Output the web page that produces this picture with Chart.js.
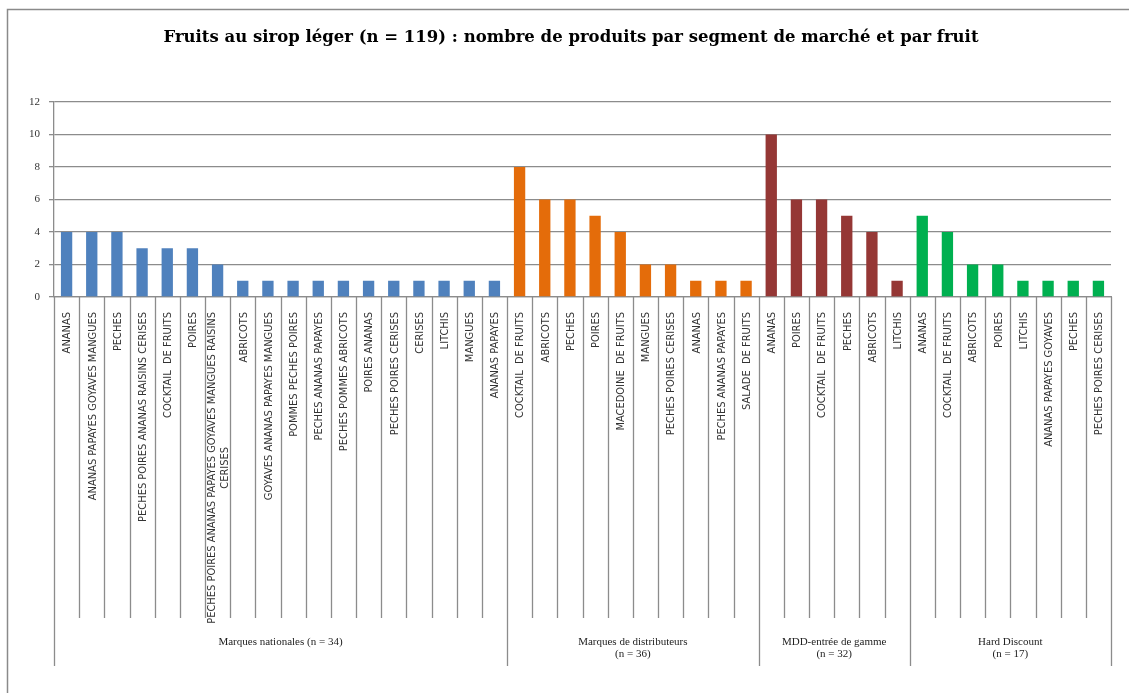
<!DOCTYPE html>
<html lang="fr">
<head>
<meta charset="utf-8">
<title>Fruits au sirop léger</title>
<script src="https://cdn.jsdelivr.net/npm/chart.js"></script>
<style>
  html,body{margin:0;padding:0;background:#fff}
  #wrap{position:relative;width:1129px;height:693px}
</style>
</head>
<body>
<div id="wrap"><canvas id="chart"></canvas></div>
<script>
/* ---------- DATA ---------- */
const titleText = "Fruits au sirop léger (n = 119) : nombre de produits par segment de marché et par fruit";
const yTicks = [0, 2, 4, 6, 8, 10, 12];

const natLabels = ["ANANAS", "ANANAS PAPAYES GOYAVES MANGUES", "PECHES", "PECHES POIRES ANANAS RAISINS CERISES",
  "COCKTAIL  DE FRUITS", "POIRES", ["PECHES POIRES ANANAS PAPAYES GOYAVES MANGUES RAISINS", "CERISES"],
  "ABRICOTS", "GOYAVES ANANAS PAPAYES MANGUES", "POMMES PECHES POIRES", "PECHES ANANAS PAPAYES",
  "PECHES POMMES ABRICOTS", "POIRES ANANAS", "PECHES POIRES CERISES", "CERISES", "LITCHIS", "MANGUES", "ANANAS PAPAYES"];
const natValues = [4, 4, 4, 3, 3, 3, 2, 1, 1, 1, 1, 1, 1, 1, 1, 1, 1, 1];

const distLabels = ["COCKTAIL  DE FRUITS", "ABRICOTS", "PECHES", "POIRES", "MACEDOINE  DE FRUITS", "MANGUES",
  "PECHES POIRES CERISES", "ANANAS", "PECHES ANANAS PAPAYES", "SALADE  DE FRUITS"];
const distValues = [8, 6, 6, 5, 4, 2, 2, 1, 1, 1];

const mddLabels = ["ANANAS", "POIRES", "COCKTAIL  DE FRUITS", "PECHES", "ABRICOTS", "LITCHIS"];
const mddValues = [10, 6, 6, 5, 4, 1];

const hdLabels = ["ANANAS", "COCKTAIL  DE FRUITS", "ABRICOTS", "POIRES", "LITCHIS", "ANANAS PAPAYES GOYAVES",
  "PECHES", "PECHES POIRES CERISES"];
const hdValues = [5, 4, 2, 2, 1, 1, 1, 1];

const groupNames = [["Marques nationales (n = 34)"], ["Marques de distributeurs", "(n = 36)"],
  ["MDD-entrée de gamme", "(n = 32)"], ["Hard Discount", "(n = 17)"]];

/* ---------- STYLE ---------- */
const groupColors = ["#4f81bd", "#e46c0a", "#953735", "#00b050"];
const lineGray = "#8c8c8c";
const serif = "'Liberation Serif', 'DejaVu Serif', serif";
const narrow = "'Liberation Sans Narrow', 'DejaVu Sans Condensed', 'Liberation Sans', sans-serif";

/* ---------- BUILD ---------- */
const groups = [[natLabels, natValues], [distLabels, distValues], [mddLabels, mddValues], [hdLabels, hdValues]];
const labels = [], values = [], colors = [], groupEdges = [0];
groups.forEach(([l, v], g) => {
  l.forEach((name, i) => { labels.push(name); values.push(v[i]); colors.push(groupColors[g]); });
  groupEdges.push(labels.length);
});

// white page, frame and title
const framePlugin = {
  id: "frame",
  beforeDraw(chart) {
    const c = chart.ctx;
    c.save();
    c.fillStyle = "#fff";
    c.fillRect(0, 0, chart.width, chart.height);
    c.strokeStyle = "#8a8a8a";
    c.lineWidth = 1.5;
    c.beginPath();
    c.moveTo(7.5, chart.height + 2); c.lineTo(7.5, 9.5); c.lineTo(chart.width + 2, 9.5);
    c.stroke();
    c.fillStyle = "#000";
    c.font = "bold 16.5px 'DejaVu Serif', serif";
    c.textAlign = "center";
    c.textBaseline = "middle";
    c.fillText(titleText, 571, 38);
    c.restore();
  }
};

// rotated fruit names, separators and segment names under the axis
const groupAxisPlugin = {
  id: "groupAxis",
  afterDraw(chart) {
    const x = chart.scales.x, c = chart.ctx;
    const top = chart.chartArea.bottom;
    const pitch = x.width / labels.length;
    const edge = i => x.getPixelForValue(0) - pitch / 2 + i * pitch;
    c.save();
    c.strokeStyle = lineGray;
    c.lineWidth = 1.3;
    for (let i = 0; i <= labels.length; i++) {
      const isGroup = groupEdges.includes(i);
      const px = Math.round(edge(i)) + 0.5;
      c.beginPath();
      c.moveTo(px, top);
      c.lineTo(px, top + (isGroup ? 369 : 321));
      c.stroke();
    }

    c.fillStyle = "#333";
    c.font = "11px " + narrow;
    c.textAlign = "center";
    c.textBaseline = "middle";
    labels.forEach((lab, i) => {
      const lines = Array.isArray(lab) ? lab : [lab];
      const w = Math.max(...lines.map(t => c.measureText(t).width));
      const cx = x.getPixelForValue(i), cy = top + 15 + w / 2;
      lines.forEach((t, k) => {
        c.save();
        c.translate(cx + (k - (lines.length - 1) / 2) * 13 + 1, cy);
        c.rotate(-Math.PI / 2);
        c.fillText(t, 0, 0);
        c.restore();
      });
    });

    c.fillStyle = "#222";
    c.font = "11px " + serif;
    groupNames.forEach((lines, g) => {
      const cx = (edge(groupEdges[g]) + edge(groupEdges[g + 1])) / 2;
      lines.forEach((t, k) => c.fillText(t, cx, top + 345 + k * 12.5));
    });
    c.restore();
  }
};

new Chart(document.getElementById("chart"), {
  type: "bar",
  data: {
    labels,
    datasets: [{ data: values, backgroundColor: colors, barPercentage: 0.45, categoryPercentage: 1 }]
  },
  options: {
    responsive: true,
    maintainAspectRatio: false,
    animation: false,
    layout: { padding: { left: 0, right: 18, top: 102, bottom: 0 } },
    plugins: {
      legend: { display: false },
      tooltip: { enabled: false },
      title: { display: false }
    },
    scales: {
      x: {
        grid: { display: false, drawTicks: false },
        border: { display: true, color: lineGray, width: 1.3 },
        ticks: { display: false },
        afterFit(s) { s.height = 396; }
      },
      y: {
        min: 0, max: 12,
        afterBuildTicks(s) { s.ticks = yTicks.map(v => ({ value: v })); },
        grid: { color: lineGray, lineWidth: 1.3, tickLength: 5 },
        border: { color: lineGray, width: 1.3 },
        ticks: { padding: 9, color: "#333", font: { family: serif, size: 11 } },
        afterFit(s) { s.width = 54; }
      }
    }
  },
  plugins: [framePlugin, groupAxisPlugin]
});
</script>
</body>
</html>
